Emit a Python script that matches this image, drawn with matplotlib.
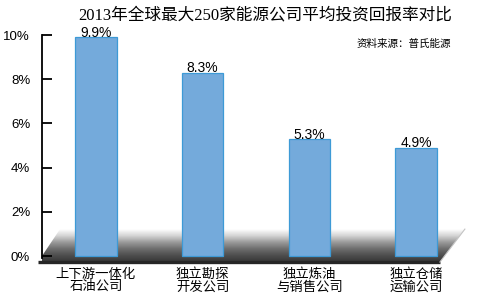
import numpy as np
import matplotlib
matplotlib.use('Agg')
import matplotlib.pyplot as plt
from matplotlib.patches import Polygon
from matplotlib.colors import LinearSegmentedColormap

plt.rcParams['font.family'] = ['Liberation Sans', 'Noto Sans CJK SC']

# data
categories = ['上下游一体化\n石油公司', '独立勘探\n开发公司', '独立炼油\n与销售公司', '独立仓储\n运输公司']
returns = [9.9, 8.3, 5.3, 4.9]
value_labels = ['9.9%', '8.3%', '5.3%', '4.9%']
yticks = [0, 2, 4, 6, 8, 10]
ytick_labels = ['0%', '2%', '4%', '6%', '8%', '10%']

fig = plt.figure(figsize=(5, 2.94), dpi=100)
ax = fig.add_axes([0.084, 0.1088, 0.856, 0.789])

x = np.arange(len(categories))

# gray floor under bars
floor = [(-0.337, 1.22), (3.458, 1.22), (3.224, -0.27), (-0.544, -0.27)]
poly = Polygon(floor, closed=True, facecolor='none', edgecolor='none', zorder=2)
ax.add_patch(poly)
cmap = LinearSegmentedColormap.from_list(
    'fl', ['#363636', '#4e4e4e', '#6e6e6e', '#9a9a9a', '#d4d4d4', '#ffffff'])
grad = np.linspace(0, 1, 200).reshape(-1, 1)
im = ax.imshow(grad, cmap=cmap, aspect='auto', origin='lower',
               extent=(-0.6, 3.5, -0.27, 1.22), zorder=1)
im.set_clip_path(poly)
ax.plot([-0.544, 3.224], [-0.27, -0.27], color='#262626', lw=2.4, zorder=3,
        clip_on=False, solid_capstyle='butt')
ax.plot([3.224, 3.458], [-0.27, 1.22], color='#c4c4c4', lw=0.8, zorder=3,
        clip_on=False)

# bars
ax.bar(x, returns, width=0.39, color='#74aadb', edgecolor='#3d9ad6', lw=0.9, zorder=4)
for xi, v, lab in zip(x, returns, value_labels):
    ax.text(xi, v - 0.12, lab, ha='center', va='bottom', fontsize=10, zorder=5,
            family=['Liberation Sans Narrow', 'Liberation Sans'])

ax.set_xlim(-0.506, 3.506)
ax.set_ylim(-0.27, 10.23)

# axes styling
for s in ['top', 'right', 'bottom']:
    ax.spines[s].set_visible(False)
ax.spines['left'].set_bounds(-0.1, 10)
ax.spines['left'].set_linewidth(1.3)
ax.spines['left'].set_zorder(6)
ax.set_yticks(yticks)
ax.set_yticklabels(ytick_labels, fontsize=9.5,
                   family=['Liberation Sans Narrow', 'Liberation Sans'])
ax.tick_params(axis='y', direction='in', length=7, width=1.3, pad=8.5)
ax.set_xticks(x)
ax.set_xticklabels(categories, fontsize=9.6, linespacing=1.05)
ax.tick_params(axis='x', length=0, pad=4.5)

fig.text(0.53, 0.947, '2013年全球最大250家能源公司平均投资回报率对比', ha='center', va='center',
         fontsize=12, family=['Liberation Serif', 'Noto Sans CJK SC'])
fig.text(0.902, 0.85, '资料来源：普氏能源', ha='right', va='center', fontsize=7.6,
         family=['Noto Sans CJK SC'])

fig.savefig('out.png', dpi=100)
